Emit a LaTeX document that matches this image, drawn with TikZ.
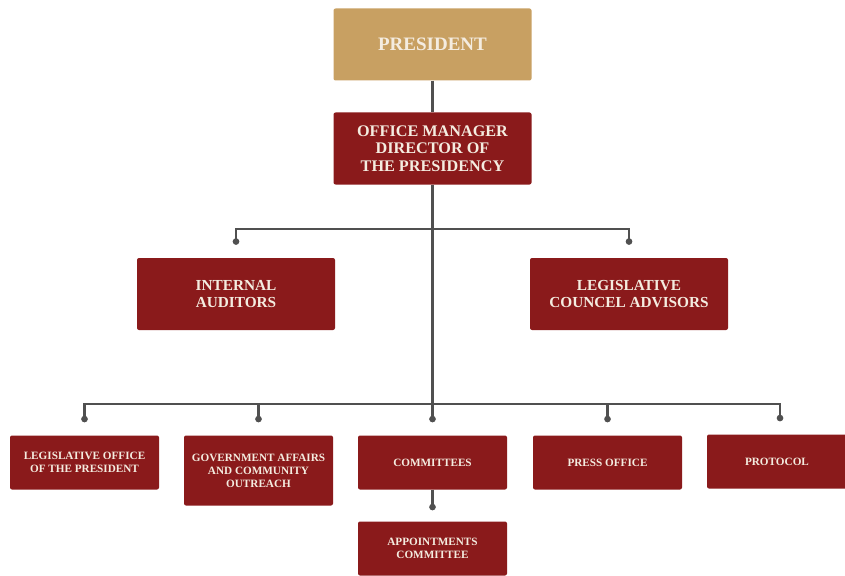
\documentclass[tikz,border=0pt]{standalone}
\usepackage{fontspec}
\setmainfont{Liberation Serif}
\usetikzlibrary{arrows.meta}
\definecolor{tan}{HTML}{C8A062}
\definecolor{wine}{HTML}{8A1A1B}
\definecolor{cream}{HTML}{F4ECE0}
\definecolor{wire}{HTML}{505050}
\tikzset{
  box/.style={draw=none, rounded corners=2pt, text=cream, align=center,
    font=\bfseries, inner sep=1pt},
  redbox/.style={box, fill=wine},
  wirel/.style={draw=wire, line width=2.2pt},
  dotted end/.style={wirel, -{Circle[length=6.5pt,width=6.5pt]}},
}
\begin{document}
\begin{tikzpicture}[x=1pt,y=-1pt]
\useasboundingbox (0,0) rectangle (845,575);
% top
\node[box, fill=tan, minimum width=198pt, minimum height=72pt, font=\bfseries\fontsize{19}{22}\selectfont] (pres) at (432.5,44.5) {PRESIDENT};
\node[redbox, minimum width=198pt, minimum height=72pt, font=\bfseries\fontsize{16.2}{17.5}\selectfont] (off) at (432.5,148.5) {OFFICE MANAGER\\DIRECTOR OF\\THE PRESIDENCY};
% middle
\node[redbox, minimum width=198pt, minimum height=72pt, font=\bfseries\fontsize{15.3}{17}\selectfont] (ia) at (236,294) {INTERNAL\\AUDITORS};
\node[redbox, minimum width=198pt, minimum height=72pt, font=\bfseries\fontsize{15.3}{17}\selectfont] (lca) at (629,294) {LEGISLATIVE\\COUNCEL ADVISORS};
% bottom
\tikzset{small/.style={redbox, minimum width=149pt, font=\bfseries\fontsize{11.2}{13}\selectfont}}
\node[small, minimum height=54pt] (lo) at (84.5,462.5) {LEGISLATIVE OFFICE\\OF THE PRESIDENT};
\node[small, minimum height=70pt] (ga) at (258.5,470.5) {GOVERNMENT AFFAIRS\\AND COMMUNITY\\OUTREACH};
\node[small, minimum height=54pt] (com) at (432.5,462.5) {COMMITTEES};
\node[small, minimum height=54pt] (po) at (607.5,462.5) {PRESS OFFICE};
\node[small, minimum width=140pt, minimum height=54pt] (pr) at (777,461.5) {PROTOCOL};
\node[small, minimum height=54pt] (ac) at (432.5,548.5) {APPOINTMENTS\\COMMITTEE};
% connectors
\coordinate (j1) at (432.5,229);
\coordinate (j2) at (432.5,404);
\draw[wirel] (pres.south) -- (off.north);
\draw[wirel] (off.south) -- (j2);
\draw[dotted end] (j1) -| ([yshift=13pt]ia.north);
\draw[dotted end] (j1) -| ([yshift=13pt]lca.north);
\draw[dotted end] (j2) -| ([yshift=13pt]lo.north);
\draw[dotted end] (j2) -| ([yshift=13pt]ga.north);
\draw[dotted end] (j2) -- ([yshift=13pt]com.north);
\draw[dotted end] (j2) -| ([yshift=13pt]po.north);
\draw[dotted end] (j2) -| ([yshift=13pt,xshift=3pt]pr.north);
\draw[dotted end] (com.south) -- ([yshift=11pt]ac.north);
\end{tikzpicture}
\end{document}
